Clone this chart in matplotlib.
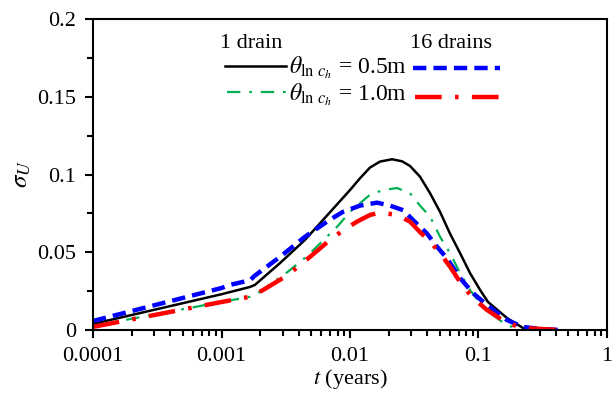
import matplotlib
matplotlib.use("Agg")
import matplotlib.pyplot as plt
from matplotlib.ticker import LogLocator, FixedLocator, NullFormatter, MultipleLocator

plt.rcParams['font.family'] = ['Liberation Serif', 'DejaVu Serif']
plt.rcParams['mathtext.fontset'] = 'stix'

# 1 drain, theta = 0.5 m (black solid)
t_b1 = [0.0001, 0.001, 0.00167, 0.00182, 0.00285, 0.00447, 0.0070, 0.00836, 0.0100, 0.01197,
        0.01432, 0.01712, 0.02123, 0.0254, 0.0293, 0.03505, 0.04195, 0.05018, 0.0600, 0.0718,
        0.0859, 0.103, 0.1186, 0.1666, 0.222, 0.301]
s_b1 = [0.0039, 0.023, 0.0277, 0.029, 0.043, 0.058, 0.0758, 0.0829, 0.090, 0.0976,
        0.1045, 0.1083, 0.1098, 0.1085, 0.1055, 0.0986, 0.088, 0.076, 0.062, 0.0495,
        0.0366, 0.0257, 0.018, 0.0077, 0.0013, 0.0]

# 16 drains, theta = 0.5 m (blue dashed)
t_b16 = [0.0001, 0.001, 0.001164, 0.00167, 0.00182, 0.00285, 0.00447, 0.0070, 0.00882, 0.01197,
         0.01622, 0.02048, 0.0260, 0.03093, 0.03973, 0.04753, 0.0569, 0.0718, 0.0906, 0.1164,
         0.1666, 0.222, 0.301, 0.43]
s_b16 = [0.0058, 0.027, 0.029, 0.032, 0.035, 0.047, 0.060, 0.071, 0.076, 0.080,
         0.0819, 0.080, 0.077, 0.0707, 0.062, 0.0536, 0.046, 0.0334, 0.0238, 0.016,
         0.0064, 0.002, 0.0006, 0.0]

# 1 drain, theta = 1.0 m (green dash-dot)
t_g1 = [0.0001, 0.001, 0.00167, 0.001995, 0.00329, 0.00471, 0.0070, 0.00806, 0.0100, 0.01432,
        0.01806, 0.02322, 0.0293, 0.03505, 0.04195, 0.05018, 0.0600, 0.0718, 0.0859, 0.103,
        0.1228, 0.1666, 0.2104]
s_g1 = [0.0026, 0.018, 0.0214, 0.0246, 0.0375, 0.048, 0.062, 0.067, 0.076, 0.087,
        0.090, 0.0913, 0.088, 0.080, 0.073, 0.060, 0.0495, 0.0366, 0.0257, 0.0173,
        0.011, 0.003, 0.0006]

# 16 drains, theta = 1.0 m (red long dash-dot)
t_r16 = [0.0001, 0.001, 0.00167, 0.002104, 0.003233, 0.00488, 0.0070, 0.00882, 0.01134, 0.01432,
         0.01712, 0.02322, 0.0293, 0.03505, 0.04195, 0.05018, 0.0600, 0.0744, 0.0906, 0.1164,
         0.1666, 0.222, 0.43]
s_r16 = [0.002, 0.018, 0.0214, 0.0257, 0.035, 0.047, 0.058, 0.064, 0.0697, 0.074,
         0.0755, 0.074, 0.0697, 0.063, 0.0568, 0.0495, 0.0407, 0.029, 0.0206, 0.0129,
         0.0045, 0.0013, 0.0]

x_ticks = [0.0001, 0.001, 0.01, 0.1, 1]
x_labels = ['0.0001', '0.001', '0.01', '0.1', '1']
y_ticks = [0, 0.05, 0.1, 0.15, 0.2]
y_labels = ['0', '0.05', '0.1', '0.15', '0.2']

fig = plt.figure(figsize=(6.13, 4.01), dpi=100)
ax = fig.add_axes([93/613, 71/401, 514/613, 311/401])

ax.plot(t_b1, s_b1, color='black', lw=1.8, solid_joinstyle='round')
ax.plot(t_g1, s_g1, color='#00b050', lw=1.6, dashes=(6, 4, 1.2, 4))
ax.plot(t_b16, s_b16, color='#0000ff', lw=3.2, dashes=(3, 1.6))
ax.plot(t_r16, s_r16, color='#ff0000', lw=3.2, dashes=(6, 3, 0.8, 3))

ax.set_xscale('log')
ax.set_xlim(0.0001, 1)
ax.set_ylim(0, 0.2)
ax.xaxis.set_major_locator(FixedLocator(x_ticks))
ax.set_xticklabels(x_labels)
ax.xaxis.set_minor_locator(LogLocator(base=10, subs=range(2, 10)))
ax.xaxis.set_minor_formatter(NullFormatter())
ax.set_yticks(y_ticks)
ax.set_yticklabels(y_labels)
ax.yaxis.set_minor_locator(MultipleLocator(0.025))

for s in ax.spines.values():
    s.set_linewidth(1.5)
ax.tick_params(which='both', direction='out', top=False, right=False, labelsize=16, width=1.5)
ax.tick_params(which='major', length=6, pad=6)
ax.tick_params(which='minor', length=4)

ax.set_xlabel(r'$t$ (years)', fontsize=16, labelpad=1)
ax.set_ylabel(r'$\sigma_U$', fontsize=18, labelpad=3)

# custom legend
def ax_xy(px, py):
    return ((px - 93) / 514, (330 - py) / 311)

tr = ax.transAxes
x0, y0 = ax_xy(251, 43)
ax.text(x0, y0, '1 drain', transform=tr, fontsize=16, ha='center', va='center')
x0, y0 = ax_xy(451, 43)
ax.text(x0, y0, '16 drains', transform=tr, fontsize=16, ha='center', va='center')

a, yb = ax_xy(225, 66); b, _ = ax_xy(286, 66)
ax.plot([a, b], [yb, yb], transform=tr, color='black', lw=1.8)
a, yb = ax_xy(227, 92); b, _ = ax_xy(290, 92)
ax.plot([a, b], [yb, yb], transform=tr, color='#00b050', lw=1.6, dashes=(6, 4, 1.2, 4))
a, yb = ax_xy(413, 68); b, _ = ax_xy(500, 68)
ax.plot([a, b], [yb, yb], transform=tr, color='#0000ff', lw=3.2, dashes=(3, 1.6))
a, yb = ax_xy(415, 97); b, _ = ax_xy(503, 97)
ax.plot([a, b], [yb, yb], transform=tr, color='#ff0000', lw=3.2, dashes=(6, 3, 0.8, 3))

x0, y0 = ax_xy(289, 68)
ax.text(x0, y0, r'$\theta_{\mathrm{ln}\ c_h}$ = 0.5m', transform=tr, fontsize=17, ha='left', va='center')
x0, y0 = ax_xy(289, 95)
ax.text(x0, y0, r'$\theta_{\mathrm{ln}\ c_h}$ = 1.0m', transform=tr, fontsize=17, ha='left', va='center')

fig.savefig('out.png', dpi=100)
